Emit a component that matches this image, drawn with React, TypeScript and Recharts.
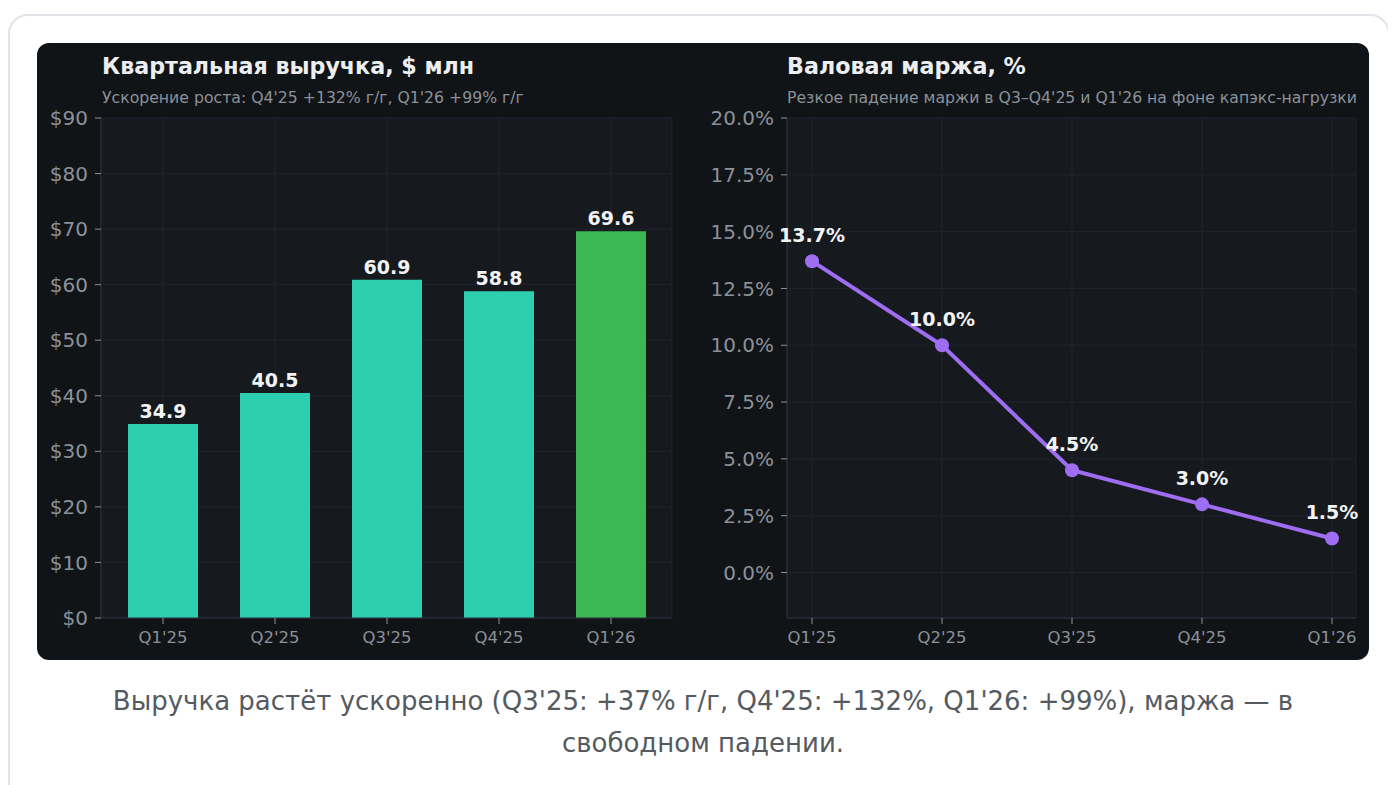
import React from 'react';
import {
  BarChart,
  Bar,
  LineChart,
  Line,
  XAxis,
  YAxis,
  CartesianGrid,
  Cell,
  LabelList,
} from 'recharts';

const quarters = ["Q1'25", "Q2'25", "Q3'25", "Q4'25", "Q1'26"];
const revenue = [34.9, 40.5, 60.9, 58.8, 69.6];
const grossMargin = [13.7, 10.0, 4.5, 3.0, 1.5];
const revenueTicks = [0, 10, 20, 30, 40, 50, 60, 70, 80, 90];
const marginTicks = [0, 2.5, 5, 7.5, 10, 12.5, 15, 17.5, 20];

const font = '"DejaVu Sans", sans-serif';
const tickColor = '#8b9199';
const gridColor = '#1f2331';
const plotBg = '#161a1e';
const axisColor = '#2c323d';

const revenueData = quarters.map((q, i) => ({ q, value: revenue[i] }));
const marginData = quarters.map((q, i) => ({ q, value: grossMargin[i] }));

const Title = ({ x, title, sub }: { x: number; title: string; sub: string }) => (
  <>
    <div style={{ position: 'absolute', left: x, top: 10, fontSize: 22.2, fontWeight: 'bold', color: '#eceef0', whiteSpace: 'nowrap' }}>
      {title}
    </div>
    <div style={{ position: 'absolute', left: x, top: 45, fontSize: 15.7, color: tickColor, whiteSpace: 'nowrap' }}>
      {sub}
    </div>
  </>
);

const xTick = { fill: tickColor, fontSize: 16.5, fontFamily: font };
const yTick = { fill: tickColor, fontSize: 20, fontFamily: font };
const valueLabel = { fill: '#f2f3f5', fontSize: 19, fontWeight: 'bold', fontFamily: font };

export default function App() {
  return (
    <div
      style={{
        position: 'relative',
        width: 1378,
        height: 800,
        marginTop: 6,
        border: '2px solid #e0e3e7',
        borderRadius: 20,
        background: '#fff',
        fontFamily: font,
      }}
    >
      <div
        style={{
          position: 'absolute',
          left: 27,
          top: 27,
          width: 1332,
          height: 617,
          background: '#111417',
          borderRadius: 12,
          overflow: 'hidden',
        }}
      >
        <Title x={65} title="Квартальная выручка, $ млн" sub="Ускорение роста: Q4'25 +132% г/г, Q1'26 +99% г/г" />
        <Title x={750} title="Валовая маржа, %" sub="Резкое падение маржи в Q3–Q4'25 и Q1'26 на фоне капэкс-нагрузки" />

        <div style={{ position: 'absolute', left: 0, top: 0 }}>
          <BarChart width={660} height={617} data={revenueData} margin={{ top: 75, right: 25, left: 0, bottom: 0 }} barCategoryGap={21}>
            <CartesianGrid stroke={gridColor} fill={plotBg} />
            <XAxis
              dataKey="q"
              height={42}
              padding={{ left: 6, right: 5 }}
              tick={xTick}
              tickLine={{ stroke: tickColor }}
              tickSize={6}
              tickMargin={7}
              axisLine={{ stroke: axisColor }}
            />
            <YAxis
              width={64}
              domain={[0, 90]}
              ticks={revenueTicks}
              tickFormatter={(v: number) => `$${v}`}
              tick={yTick}
              tickLine={{ stroke: tickColor }}
              tickSize={6}
              tickMargin={7}
              axisLine={{ stroke: axisColor }}
            />
            <Bar dataKey="value" isAnimationActive={false}>
              {revenueData.map((d, i) => (
                <Cell key={d.q} fill={i === revenueData.length - 1 ? '#3bb852' : '#2dcfb0'} />
              ))}
              <LabelList
                dataKey="value"
                position="top"
                offset={6}
                formatter={(v: number) => v.toFixed(1)}
                style={valueLabel}
              />
            </Bar>
          </BarChart>
        </div>

        <div style={{ position: 'absolute', left: 660, top: 0 }}>
          <LineChart width={672} height={617} data={marginData} margin={{ top: 75, right: 13, left: 0, bottom: 0 }}>
            <CartesianGrid stroke={gridColor} fill={plotBg} />
            <XAxis
              dataKey="q"
              height={42}
              padding={{ left: 25, right: 24 }}
              tick={xTick}
              tickLine={{ stroke: tickColor }}
              tickSize={6}
              tickMargin={7}
              axisLine={{ stroke: axisColor }}
            />
            <YAxis
              width={90}
              domain={[-2, 20]}
              ticks={marginTicks}
              allowDataOverflow
              tickFormatter={(v: number) => `${v.toFixed(1)}%`}
              tick={yTick}
              tickLine={{ stroke: tickColor }}
              tickSize={6}
              tickMargin={7}
              axisLine={{ stroke: axisColor }}
            />
            <Line
              dataKey="value"
              stroke="#9f6df2"
              strokeWidth={4}
              dot={{ r: 7, fill: '#9f6df2', stroke: '#9f6df2', strokeWidth: 0 }}
              isAnimationActive={false}
            >
              <LabelList
                dataKey="value"
                position="top"
                offset={19}
                formatter={(v: number) => `${v.toFixed(1)}%`}
                style={valueLabel}
              />
            </Line>
          </LineChart>
        </div>
      </div>

      <div
        style={{
          position: 'absolute',
          left: 78,
          top: 664,
          width: 1230,
          textAlign: 'center',
          fontSize: 26,
          lineHeight: '42px',
          color: '#555a60',
        }}
      >
        Выручка растёт ускоренно (Q3'25: +37% г/г, Q4'25: +132%, Q1'26: +99%), маржа — в свободном падении.
      </div>
    </div>
  );
}
